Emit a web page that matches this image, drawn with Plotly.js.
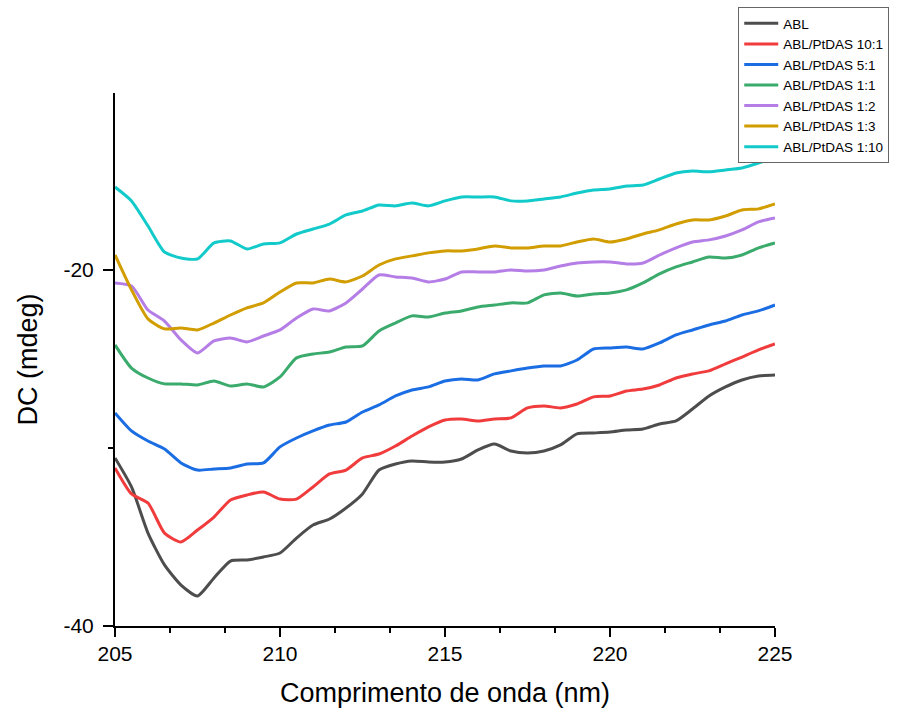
<!DOCTYPE html>
<html>
<head>
<meta charset="utf-8">
<script src="https://cdn.plot.ly/plotly-3.0.1.min.js"></script>
<style>html,body{margin:0;padding:0;background:#fff;}#chart{width:897px;height:709px;}</style>
</head>
<body>
<div id="chart"></div>
<script>
const wavelength = [205,205.5,206,206.5,207,207.5,208,208.5,209,209.5,210,210.5,211,211.5,212,212.5,213,213.5,214,214.5,215,215.5,216,216.5,217,217.5,218,218.5,219,219.5,220,220.5,221,221.5,222,222.5,223,223.5,224,224.5,225];

const seriesNames = ["ABL","ABL/PtDAS 10:1","ABL/PtDAS 5:1","ABL/PtDAS 1:1","ABL/PtDAS 1:2","ABL/PtDAS 1:3","ABL/PtDAS 1:10"];

const abl = [-30.56,-32.19,-34.78,-36.57,-37.70,-38.31,-37.30,-36.35,-36.29,-36.12,-35.90,-35.06,-34.33,-33.99,-33.37,-32.58,-31.24,-30.90,-30.73,-30.79,-30.79,-30.62,-30.11,-29.78,-30.17,-30.28,-30.17,-29.83,-29.21,-29.16,-29.10,-28.99,-28.93,-28.65,-28.48,-27.81,-27.08,-26.57,-26.18,-25.96,-25.90];
const r10_1 = [-31.12,-32.58,-33.09,-34.78,-35.28,-34.61,-33.88,-32.92,-32.64,-32.47,-32.87,-32.87,-32.19,-31.46,-31.24,-30.56,-30.34,-29.89,-29.33,-28.82,-28.43,-28.37,-28.48,-28.37,-28.31,-27.75,-27.64,-27.75,-27.53,-27.13,-27.08,-26.80,-26.69,-26.46,-26.07,-25.84,-25.67,-25.28,-24.89,-24.49,-24.16];
const r5_1 = [-28.03,-29.04,-29.61,-30.06,-30.84,-31.24,-31.18,-31.12,-30.90,-30.84,-29.94,-29.44,-29.04,-28.71,-28.54,-27.98,-27.58,-27.08,-26.74,-26.57,-26.24,-26.12,-26.18,-25.84,-25.67,-25.51,-25.39,-25.39,-25.06,-24.44,-24.38,-24.33,-24.44,-24.10,-23.65,-23.37,-23.09,-22.87,-22.53,-22.30,-21.97];
const r1_1 = [-24.21,-25.51,-26.07,-26.40,-26.40,-26.46,-26.24,-26.52,-26.40,-26.57,-26.01,-24.94,-24.72,-24.61,-24.33,-24.27,-23.43,-22.98,-22.58,-22.64,-22.42,-22.30,-22.08,-21.97,-21.85,-21.85,-21.40,-21.29,-21.46,-21.35,-21.29,-21.12,-20.73,-20.22,-19.83,-19.55,-19.27,-19.33,-19.16,-18.76,-18.48];
const r1_2 = [-20.73,-20.90,-22.25,-22.87,-23.93,-24.66,-23.99,-23.82,-24.04,-23.71,-23.37,-22.70,-22.19,-22.30,-21.85,-21.07,-20.28,-20.39,-20.45,-20.67,-20.51,-20.11,-20.11,-20.11,-20.00,-20.06,-20.00,-19.78,-19.61,-19.55,-19.55,-19.66,-19.61,-19.16,-18.76,-18.43,-18.31,-18.09,-17.75,-17.30,-17.08];
const r1_3 = [-19.16,-21.12,-22.75,-23.31,-23.26,-23.37,-22.98,-22.53,-22.13,-21.85,-21.24,-20.73,-20.73,-20.51,-20.67,-20.34,-19.72,-19.38,-19.21,-19.04,-18.93,-18.93,-18.82,-18.65,-18.76,-18.76,-18.65,-18.65,-18.43,-18.26,-18.43,-18.26,-17.98,-17.75,-17.42,-17.19,-17.19,-16.97,-16.63,-16.57,-16.29];
const r1_10 = [-15.34,-16.12,-17.53,-18.99,-19.33,-19.38,-18.48,-18.37,-18.82,-18.54,-18.48,-17.98,-17.70,-17.42,-16.91,-16.69,-16.35,-16.40,-16.24,-16.40,-16.12,-15.90,-15.90,-15.90,-16.12,-16.12,-16.01,-15.90,-15.68,-15.51,-15.45,-15.28,-15.23,-14.89,-14.55,-14.44,-14.49,-14.38,-14.27,-13.99,-13.71];

const seriesValues = [abl, r10_1, r5_1, r1_1, r1_2, r1_3, r1_10];
const colors = ["#4d4d4d","#f03c3c","#1a6de3","#3aab6c","#b57de6","#d19d00","#12caca"];

const traces = seriesValues.map((vals, i) => ({
  type: 'scatter',
  mode: 'lines',
  x: wavelength,
  y: vals,
  name: seriesNames[i],
  line: {color: colors[i], width: 3, shape: 'spline', smoothing: 0.6}
}));

const font = "Arial, 'Liberation Sans', sans-serif";

const layout = {
  width: 897,
  height: 709,
  paper_bgcolor: '#ffffff',
  plot_bgcolor: '#ffffff',
  margin: {l: 115, r: 122, t: 93, b: 83, pad: 0, autoexpand: false},
  font: {family: font, color: '#000'},
  showlegend: true,
  legend: {
    xref: 'container', yref: 'container',
    x: 0.823, y: 0.99, xanchor: 'left', yanchor: 'top',
    bgcolor: '#ffffff', bordercolor: '#666666', borderwidth: 1,
    font: {family: font, size: 13.5, color: '#000'},
    itemwidth: 34,
    tracegroupgap: 0
  },
  xaxis: {
    range: [205, 225],
    tickmode: 'linear', tick0: 205, dtick: 5,
    ticks: 'outside', ticklen: 9, tickwidth: 2, tickcolor: '#000',
    ticklabelstandoff: -1,
    minor: {dtick: 5/3, tick0: 205, ticks: 'outside', ticklen: 5, tickwidth: 2, tickcolor: '#000', showgrid: false},
    showline: true, linewidth: 2, linecolor: '#000',
    showgrid: false, zeroline: false, automargin: false,
    tickfont: {family: font, size: 21, color: '#000'},
    title: {text: 'Comprimento de onda (nm)', font: {family: font, size: 27, color: '#000'}, standoff: 19}
  },
  yaxis: {
    range: [-40, -10.06],
    tickmode: 'array', tickvals: [-40, -20], ticktext: ['-40', '-20'],
    ticks: 'outside', ticklen: 10, tickwidth: 2, tickcolor: '#000',
    ticklabelstandoff: 5,
    minor: {tickmode: 'array', tickvals: [-30], ticks: 'outside', ticklen: 5, tickwidth: 2, tickcolor: '#000', showgrid: false},
    showline: true, linewidth: 2, linecolor: '#000',
    showgrid: false, zeroline: false, automargin: false,
    tickfont: {family: font, size: 21, color: '#000'},
    title: {text: 'DC (mdeg)', font: {family: font, size: 27, color: '#000'}, standoff: 18}
  }
};

Plotly.newPlot('chart', traces, layout, {displayModeBar: false, staticPlot: true});
</script>
</body>
</html>
